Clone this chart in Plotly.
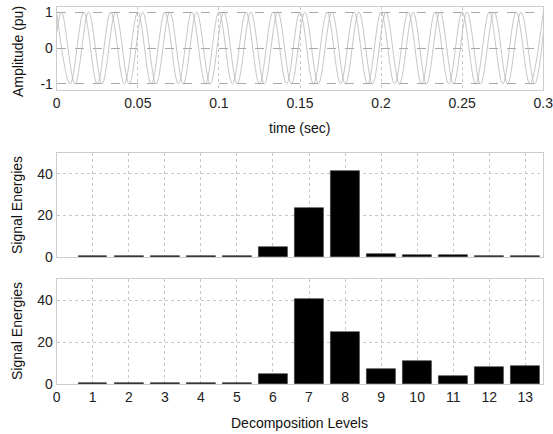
import plotly.graph_objects as go

# ---------------- data ----------------
# waveform 1 (peaks / troughs, 60 Hz)
t_wave1 = [0, 0.0083, 0.0167, 0.025, 0.0333, 0.0417, 0.05, 0.0583, 0.0667, 0.075,
           0.0833, 0.0917, 0.1, 0.1083, 0.1167, 0.125, 0.1333, 0.1417, 0.15, 0.1583,
           0.1667, 0.175, 0.1833, 0.1917, 0.2, 0.2083, 0.2167, 0.225, 0.2333, 0.2417,
           0.25, 0.2583, 0.2667, 0.275, 0.2833, 0.2917, 0.3]
amp_wave1 = [1, -1, 1, -1, 1, -1, 1, -1, 1, -1,
             1, -1, 1, -1, 1, -1, 1, -1, 1, -1,
             1, -1, 1, -1, 1, -1, 1, -1, 1, -1,
             1, -1, 1, -1, 1, -1, 1]
# waveform 2 (phase-shifted copy)
t_wave2 = [0, 0.003, 0.0113, 0.0197, 0.028, 0.0363, 0.0447, 0.053, 0.0613, 0.0697,
           0.078, 0.0863, 0.0947, 0.103, 0.1113, 0.1197, 0.128, 0.1363, 0.1447, 0.153,
           0.1613, 0.1697, 0.178, 0.1863, 0.1947, 0.203, 0.2113, 0.2197, 0.228, 0.2363,
           0.2447, 0.253, 0.2613, 0.2697, 0.278, 0.2863, 0.2947, 0.3]
amp_wave2 = [0.43, 1, -1, 1, -1, 1, -1, 1, -1, 1,
             -1, 1, -1, 1, -1, 1, -1, 1, -1, 1,
             -1, 1, -1, 1, -1, 1, -1, 1, -1, 1,
             -1, 1, -1, 1, -1, 1, -1, 0.41]

time_ticks = [0, 0.05, 0.1, 0.15, 0.2, 0.25, 0.3]
time_tick_labels = ["0", "0.05", "0.1", "0.15", "0.2", "0.25", "0.3"]

levels = [1, 2, 3, 4, 5, 6, 7, 8, 9, 10, 11, 12, 13]
energy_upper = [0.3, 0.3, 0.3, 0.3, 0.3, 4.8, 23.7, 41.2, 1.6, 1.2, 1.2, 0.6, 0.6]
energy_lower = [0.3, 0.3, 0.3, 0.3, 0.5, 4.9, 40.3, 24.6, 7.3, 11.0, 3.8, 8.0, 8.6]
level_ticks = [0, 1, 2, 3, 4, 5, 6, 7, 8, 9, 10, 11, 12, 13]
energy_ticks = [0, 20, 40]

# ---------------- figure ----------------
W, H = 553, 434
def px(x):
    return x / W
def py(y):
    return 1 - y / H

FONT = "Liberation Sans, Arial, Helvetica, sans-serif"
fig = go.Figure()

wave_line = dict(color="#b8b8b8", width=0.8, shape="spline", smoothing=1.0)
fig.add_trace(go.Scatter(x=t_wave1, y=amp_wave1, mode="lines", line=wave_line,
                         xaxis="x", yaxis="y", showlegend=False, hoverinfo="skip"))
fig.add_trace(go.Scatter(x=t_wave2, y=amp_wave2, mode="lines", line=wave_line,
                         xaxis="x", yaxis="y", showlegend=False, hoverinfo="skip"))

bar_marker = dict(color="black", line=dict(color="#333333", width=0.6))
fig.add_trace(go.Bar(x=levels, y=energy_upper, width=0.8, marker=bar_marker,
                     xaxis="x2", yaxis="y2", showlegend=False))
fig.add_trace(go.Bar(x=levels, y=energy_lower, width=0.8, marker=bar_marker,
                     xaxis="x3", yaxis="y3", showlegend=False))

x_dom = [px(56.7), px(543.3)]
frame = dict(showline=True, linecolor="#cccccc", linewidth=1, mirror=True,
             zeroline=False, ticks="", automargin=False, ticklabeloverflow="allow",
             tickfont=dict(size=14, color="#222222", family=FONT))
grid_dot = dict(showgrid=True, gridcolor="#c8c8c8", griddash="dot", gridwidth=1)

fig.update_layout(
    width=W, height=H, autosize=False,
    margin=dict(l=0, r=0, t=0, b=0),
    paper_bgcolor="white", plot_bgcolor="white",
    font=dict(family=FONT, size=13, color="#222222"),
    bargap=0,
    xaxis=dict(domain=x_dom, range=[0, 0.3], anchor="y",
               tickvals=time_ticks, ticktext=time_tick_labels, **frame, **grid_dot),
    yaxis=dict(domain=[py(90), py(7)], range=[-1.167, 1.139], anchor="x",
               tickvals=[-1, 0, 1], ticktext=["-1", "0", "1"],
               showgrid=True, gridcolor="#a8a8a8", griddash="dash", gridwidth=1, **frame),
    xaxis2=dict(domain=x_dom, range=[0, 13.5], anchor="y2",
                tickvals=level_ticks, showticklabels=False, **frame, **grid_dot),
    yaxis2=dict(domain=[py(257), py(153)], range=[0, 50], anchor="x2",
                tickvals=energy_ticks, **frame, **grid_dot),
    xaxis3=dict(domain=x_dom, range=[0, 13.5], anchor="y3",
                tickvals=level_ticks, **frame, **grid_dot),
    yaxis3=dict(domain=[py(384), py(279)], range=[0, 50], anchor="x3",
                tickvals=energy_ticks, **frame, **grid_dot),
)

title_font = dict(size=14, color="#111111", family=FONT)
annots = [
    dict(text="Amplitude (pu)", x=px(18), y=py(52), textangle=-90),
    dict(text="time (sec)", x=px(299), y=py(128), textangle=0),
    dict(text="Signal Energies", x=px(17), y=py(205), textangle=-90),
    dict(text="Signal Energies", x=px(17), y=py(331), textangle=-90),
    dict(text="Decomposition Levels", x=px(299), y=py(423), textangle=0),
]
for a in annots:
    fig.add_annotation(xref="paper", yref="paper", xanchor="center", yanchor="middle",
                       showarrow=False, font=title_font, **a)

# remove the browser's default 8px page margin so the figure fills the window
fig.write_html("out.html", config={"displayModeBar": False},
               post_script="document.body.style.margin='0';")
